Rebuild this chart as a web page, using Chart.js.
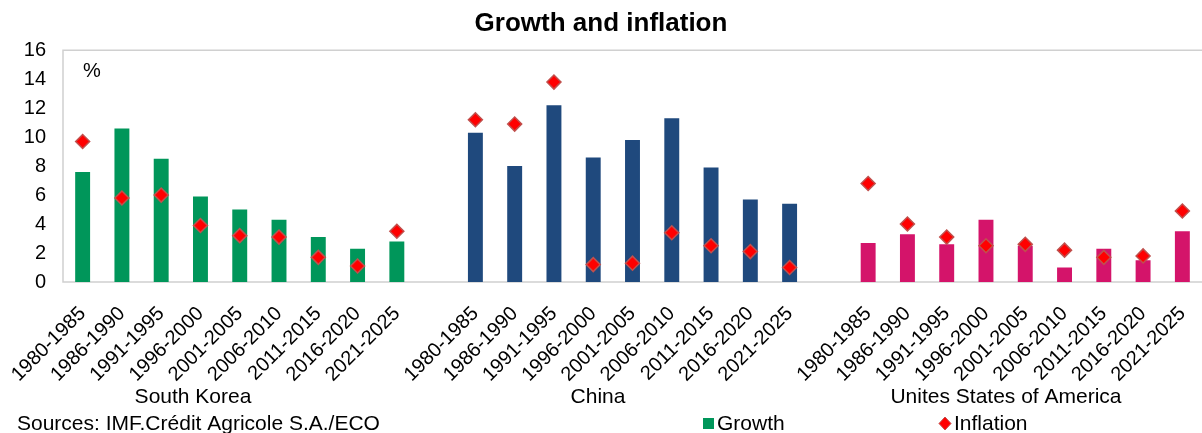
<!DOCTYPE html>
<html lang="en">
<head>
<meta charset="UTF-8" />
<script src="https://cdn.jsdelivr.net/npm/chart.js"></script>
<style>
  body { margin: 0; background: #fff; }
  #wrap { width: 1202px; height: 433px; }
</style>
</head>
<body>
<div id="wrap"><canvas id="chart" width="1202" height="433"></canvas></div>
<script>
const periods = ["1980-1985", "1986-1990", "1991-1995", "1996-2000", "2001-2005",
                 "2006-2010", "2011-2015", "2016-2020", "2021-2025"];
const countries = ["South Korea", "China", "Unites States of America"];

const koreaGrowth    = [7.6, 10.6, 8.5, 5.9, 5.0, 4.3, 3.1, 2.3, 2.8];
const koreaInflation = [9.7, 5.8, 6.0, 3.9, 3.2, 3.1, 1.7, 1.1, 3.5];
const chinaGrowth    = [10.3, 8.0, 12.2, 8.6, 9.8, 11.3, 7.9, 5.7, 5.4];
const chinaInflation = [11.2, 10.9, 13.8, 1.2, 1.3, 3.4, 2.5, 2.1, 1.0];
const usaGrowth      = [2.7, 3.3, 2.6, 4.3, 2.5, 1.0, 2.3, 1.5, 3.5];
const usaInflation   = [6.8, 4.0, 3.1, 2.5, 2.6, 2.2, 1.7, 1.8, 4.9];

const yTicks = [0, 2, 4, 6, 8, 10, 12, 14, 16];

const groupColors = ["#00965a", "#1f497d", "#d4146a"];
const FONT = "'Liberation Sans', Arial, sans-serif";
Chart.defaults.font.family = FONT;
Chart.defaults.color = "#000";

// one empty category between the country blocks
const labels = [], growth = [], inflation = [], barColors = [];
const growthSets = [koreaGrowth, chinaGrowth, usaGrowth];
const inflSets = [koreaInflation, chinaInflation, usaInflation];
countries.forEach((c, g) => {
  if (g > 0) { labels.push(""); growth.push(null); inflation.push(null); barColors.push("#fff"); }
  periods.forEach((p, i) => {
    labels.push(p);
    growth.push(growthSets[g][i]);
    inflation.push(inflSets[g][i]);
    barColors.push(groupColors[g]);
  });
});

const groupLabelX = [193, 598, 1006];

const extras = {
  id: "extras",
  beforeDatasetsDraw(chart) {
    const { ctx, chartArea: a } = chart;
    ctx.save();
    ctx.strokeStyle = "#d0d0d0";
    ctx.lineWidth = 1.5;
    ctx.beginPath();
    ctx.moveTo(a.right, a.top);
    ctx.lineTo(a.left, a.top);
    ctx.lineTo(a.left, a.bottom);
    ctx.lineTo(a.right, a.bottom);
    ctx.stroke();
    ctx.restore();
  },
  afterDraw(chart) {
    const { ctx } = chart;
    ctx.save();
    ctx.fillStyle = "#000";
    ctx.textBaseline = "middle";
    ctx.font = "20px " + FONT;
    ctx.textAlign = "left";
    ctx.fillText("%", 83, 71);

    ctx.font = "21px " + FONT;
    ctx.textAlign = "center";
    countries.forEach((c, i) => ctx.fillText(c, groupLabelX[i], 397));

    ctx.textAlign = "left";
    ctx.fillText("Sources: IMF.Crédit Agricole S.A./ECO", 17, 424);

    // legend
    ctx.fillStyle = groupColors[0];
    ctx.fillRect(703, 418, 11, 11);
    ctx.fillStyle = "#000";
    ctx.fillText("Growth", 717, 424);

    ctx.beginPath();
    ctx.moveTo(945, 417); ctx.lineTo(951, 423.5); ctx.lineTo(945, 430); ctx.lineTo(939, 423.5);
    ctx.closePath();
    ctx.fillStyle = "#ff0000";
    ctx.fill();
    ctx.strokeStyle = "#c0504d";
    ctx.lineWidth = 1;
    ctx.stroke();
    ctx.fillStyle = "#000";
    ctx.fillText("Inflation", 954, 424);
    ctx.restore();
  }
};

new Chart(document.getElementById("chart"), {
  type: "bar",
  data: {
    labels: labels,
    datasets: [
      {
        type: "line",
        label: "Inflation",
        data: inflation,
        showLine: false,
        pointStyle: "rectRot",
        pointRadius: 7,
        pointBackgroundColor: "#ff0000",
        pointBorderColor: "#c0504d",
        pointBorderWidth: 1.5,
        order: 1
      },
      {
        type: "bar",
        label: "Growth",
        data: growth,
        backgroundColor: barColors,
        categoryPercentage: 1,
        barPercentage: 0.38,
        order: 2
      }
    ]
  },
  options: {
    responsive: false,
    animation: false,
    layout: { padding: 0, autoPadding: false },
    plugins: {
      legend: { display: false },
      tooltip: { enabled: false },
      title: {
        display: true,
        text: "Growth and inflation",
        font: { size: 26, weight: "bold" },
        color: "#000",
        padding: { top: 8, bottom: 11 }
      }
    },
    scales: {
      x: {
        grid: { display: false },
        border: { display: false },
        ticks: { autoSkip: false, maxRotation: 45, minRotation: 45, font: { size: 20 }, padding: 12 },
        afterFit(s) { s.height = 151; s.paddingLeft = 0; s.paddingRight = 0; }
      },
      y: {
        min: 0, max: 16,
        grid: { display: false },
        border: { display: false },
        ticks: { font: { size: 20 }, padding: 9 },
        afterBuildTicks(s) { s.ticks = yTicks.map(v => ({ value: v })); },
        afterFit(s) { s.width = 63; }
      }
    }
  },
  plugins: [extras]
});
</script>
</body>
</html>
